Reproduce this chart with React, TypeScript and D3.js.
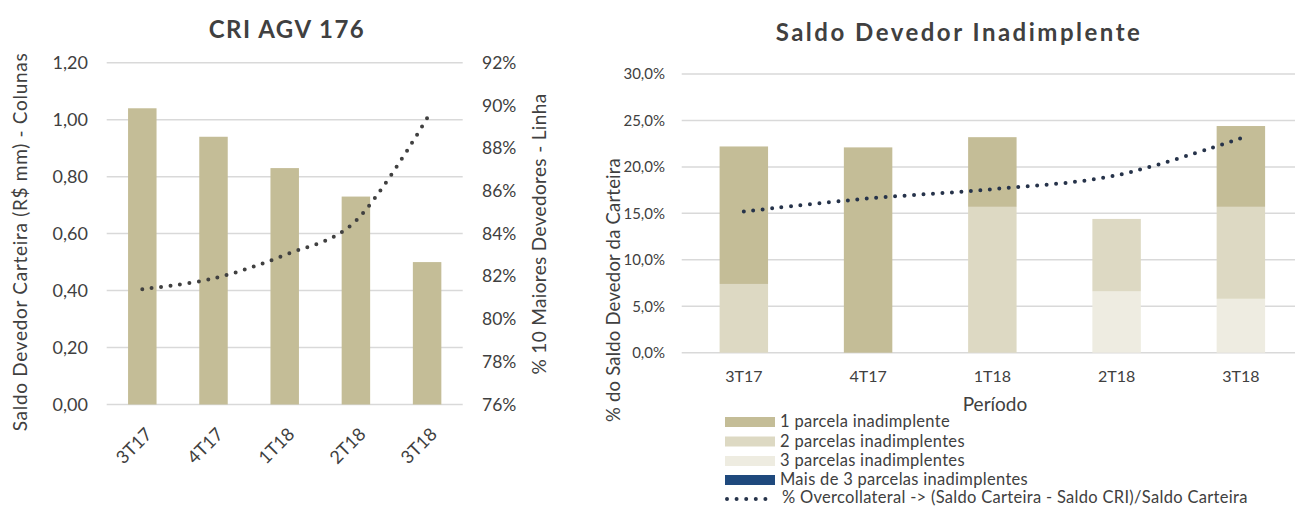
import React, { useRef, useEffect } from "react";
import * as d3 from "d3";

const periods = ["3T17", "4T17", "1T18", "2T18", "3T18"];

// left chart (CRI AGV 176)
const saldoCarteira = [1.04, 0.94, 0.83, 0.73, 0.5];
const maioresDevedores = [81.4, 81.9, 83.0, 84.6, 89.4];
const leftTicks = [0, 0.2, 0.4, 0.6, 0.8, 1.0, 1.2];
const rightTicks = [76, 78, 80, 82, 84, 86, 88, 90, 92];

// right chart (Saldo Devedor Inadimplente), in %
const parcela1 = [14.8, 22.1, 7.5, 0, 8.7];
const parcelas2 = [7.4, 0, 15.7, 7.8, 9.9];
const parcelas3 = [0, 0, 0, 6.6, 5.8];
const maisDe3 = [0, 0, 0, 0, 0];
const overcollateral = [15.2, 16.6, 17.6, 19.1, 23.1];
const pctTicks = [0, 5, 10, 15, 20, 25, 30];

const seriesNames = [
  "1 parcela inadimplente",
  "2 parcelas inadimplentes",
  "3 parcelas inadimplentes",
  "Mais de 3 parcelas inadimplentes",
];
const seriesColors = ["#c4bd97", "#ddd9c3", "#eeece1", "#1f497d"];
const lineName = "% Overcollateral -> (Saldo Carteira - Saldo CRI)/Saldo Carteira";

const W = 1295;
const H = 508;
const FONT = "Lato, 'Open Sans', sans-serif";
const TXT = "#404040";
const GRID = "#d9d9d9";

const comma = (v: number, d: number) => v.toFixed(d).replace(".", ",");

const App = () => {
  const svgRef = useRef<SVGSVGElement>(null);

  useEffect(() => {
    const svg = d3.select(svgRef.current);
    svg.selectAll("*").remove();
    svg.attr("font-family", FONT);

    // ---------- left chart ----------
    const L = { left: 106.7, right: 462.7, top: 62.7, bottom: 404.5 };
    const x1 = d3.scaleBand().domain(periods).range([L.left, L.right]).paddingInner(0.6).paddingOuter(0.3);
    const y1 = d3.scaleLinear().domain([0, 1.2]).range([L.bottom, L.top]);
    const y1r = d3.scaleLinear().domain([76, 92]).range([L.bottom, L.top]);
    const g1 = svg.append("g");

    g1.append("text")
      .attr("x", 287).attr("y", 38)
      .attr("text-anchor", "middle")
      .attr("font-size", 24).attr("font-weight", 700)
      .attr("letter-spacing", 1.5)
      .attr("fill", TXT)
      .text("CRI AGV 176");

    g1.selectAll("line.grid")
      .data(leftTicks)
      .join("line")
      .attr("x1", L.left).attr("x2", L.right)
      .attr("y1", (d) => y1(d)).attr("y2", (d) => y1(d))
      .attr("stroke", GRID).attr("stroke-width", 1.5);

    g1.selectAll("text.yl")
      .data(leftTicks)
      .join("text")
      .attr("x", 88).attr("y", (d) => y1(d))
      .attr("dy", "0.35em").attr("text-anchor", "end")
      .attr("font-size", 18).attr("fill", TXT)
      .text((d) => comma(d, 2));

    g1.selectAll("text.yr")
      .data(rightTicks)
      .join("text")
      .attr("x", 482).attr("y", (d) => y1r(d))
      .attr("dy", "0.35em")
      .attr("font-size", 17.5).attr("fill", TXT)
      .text((d) => d + "%");

    g1.selectAll("rect")
      .data(saldoCarteira)
      .join("rect")
      .attr("x", (d, i) => x1(periods[i])!)
      .attr("width", x1.bandwidth())
      .attr("y", (d) => y1(d))
      .attr("height", (d) => y1(0) - y1(d))
      .attr("fill", "#c4bd97");

    const line1 = d3
      .line<number>()
      .x((d, i) => x1(periods[i])! + x1.bandwidth() / 2)
      .y((d) => y1r(d))
      .curve(d3.curveCardinal);

    g1.append("path")
      .datum(maioresDevedores)
      .attr("d", line1)
      .attr("fill", "none")
      .attr("stroke", "#404040")
      .attr("stroke-width", 4)
      .attr("stroke-linecap", "round")
      .attr("stroke-dasharray", "0 9.5");

    g1.selectAll("text.xl")
      .data(periods)
      .join("text")
      .attr("transform", (d) => `translate(${x1(d)! + x1.bandwidth() / 2 + 2},${L.bottom + 22}) rotate(-45)`)
      .attr("text-anchor", "end")
      .attr("dy", "0.7em")
      .attr("font-size", 18).attr("fill", TXT)
      .text((d) => d);

    g1.append("text")
      .attr("transform", `translate(20,${242}) rotate(-90)`)
      .attr("text-anchor", "middle").attr("dy", "0.35em")
      .attr("font-size", 19).attr("letter-spacing", 0.7).attr("fill", TXT)
      .text("Saldo Devedor Carteira (R$ mm) - Colunas");

    g1.append("text")
      .attr("transform", `translate(539,${234}) rotate(-90)`)
      .attr("text-anchor", "middle").attr("dy", "0.35em")
      .attr("font-size", 19).attr("letter-spacing", 0.35).attr("fill", TXT)
      .text("% 10 Maiores Devedores - Linha");

    // ---------- right chart ----------
    const R = { left: 681.7, right: 1303, top: 74, bottom: 352.7 };
    const x2 = d3.scaleBand().domain(periods).range([R.left, R.right]).paddingInner(0.61).paddingOuter(0.305);
    const y2 = d3.scaleLinear().domain([0, 30]).range([R.bottom, R.top]);
    const g2 = svg.append("g");

    g2.append("text")
      .attr("x", 959).attr("y", 41)
      .attr("text-anchor", "middle")
      .attr("font-size", 24).attr("font-weight", 700)
      .attr("letter-spacing", 2.5)
      .attr("fill", TXT)
      .text("Saldo Devedor Inadimplente");

    g2.selectAll("line.grid")
      .data(pctTicks)
      .join("line")
      .attr("x1", R.left).attr("x2", R.right)
      .attr("y1", (d) => y2(d)).attr("y2", (d) => y2(d))
      .attr("stroke", GRID).attr("stroke-width", 1.5);

    g2.selectAll("text.yl")
      .data(pctTicks)
      .join("text")
      .attr("x", 665).attr("y", (d) => y2(d))
      .attr("dy", "0.35em").attr("text-anchor", "end")
      .attr("font-size", 15).attr("fill", TXT)
      .text((d) => comma(d, 1) + "%");

    // stacked from the lightest (bottom) to the darkest (top)
    const table = periods.map((p, i) => ({
      period: p,
      s0: parcela1[i],
      s1: parcelas2[i],
      s2: parcelas3[i],
      s3: maisDe3[i],
    }));
    const stack = d3.stack<any>().keys(["s3", "s2", "s1", "s0"])(table);
    const colorByKey: Record<string, string> = {
      s0: seriesColors[0],
      s1: seriesColors[1],
      s2: seriesColors[2],
      s3: seriesColors[3],
    };

    g2.selectAll("g.layer")
      .data(stack)
      .join("g")
      .attr("fill", (s) => colorByKey[s.key])
      .selectAll("rect")
      .data((s) => s)
      .join("rect")
      .attr("x", (d) => x2(d.data.period)!)
      .attr("width", x2.bandwidth())
      .attr("y", (d) => y2(d[1]))
      .attr("height", (d) => y2(d[0]) - y2(d[1]));

    const line2 = d3
      .line<number>()
      .x((d, i) => x2(periods[i])! + x2.bandwidth() / 2)
      .y((d) => y2(d))
      .curve(d3.curveCardinal);

    g2.append("path")
      .datum(overcollateral)
      .attr("d", line2)
      .attr("fill", "none")
      .attr("stroke", "#26334a")
      .attr("stroke-width", 4)
      .attr("stroke-linecap", "round")
      .attr("stroke-dasharray", "0 9.5");

    g2.selectAll("text.xl")
      .data(periods)
      .join("text")
      .attr("x", (d) => x2(d)! + x2.bandwidth() / 2)
      .attr("y", 382)
      .attr("text-anchor", "middle")
      .attr("font-size", 16).attr("fill", TXT)
      .text((d) => d);

    g2.append("text")
      .attr("x", 995).attr("y", 411)
      .attr("text-anchor", "middle")
      .attr("font-size", 19).attr("fill", TXT)
      .text("Período");

    g2.append("text")
      .attr("transform", `translate(614,${290}) rotate(-90)`)
      .attr("text-anchor", "middle").attr("dy", "0.35em")
      .attr("font-size", 18.5).attr("letter-spacing", 0.2).attr("fill", TXT)
      .text("% do Saldo Devedor da Carteira");

    // legend
    const leg = g2.append("g");
    const legY = [422, 441.5, 461, 480];
    seriesNames.forEach((name, i) => {
      leg.append("rect")
        .attr("x", 725).attr("y", legY[i] - 5)
        .attr("width", 50).attr("height", 10)
        .attr("fill", seriesColors[i]);
      leg.append("text")
        .attr("x", 780).attr("y", legY[i])
        .attr("dy", "0.33em")
        .attr("font-size", 16.5).attr("letter-spacing", 0.3).attr("fill", TXT)
        .text(name);
    });
    leg.append("line")
      .attr("x1", 727).attr("x2", 775)
      .attr("y1", 499).attr("y2", 499)
      .attr("stroke", "#26334a")
      .attr("stroke-width", 4)
      .attr("stroke-linecap", "round")
      .attr("stroke-dasharray", "0 9.6");
    leg.append("text")
      .attr("x", 782).attr("y", 498.5)
      .attr("dy", "0.3em")
      .attr("font-size", 16.5).attr("letter-spacing", 0.3).attr("fill", TXT)
      .text(lineName);
  }, []);

  return (
    <div>
      <svg
        ref={svgRef}
        width={W}
        height={H}
        style={{ position: "absolute", left: 0, top: 0, background: "#fff" }}
      />
    </div>
  );
};

export default App;
